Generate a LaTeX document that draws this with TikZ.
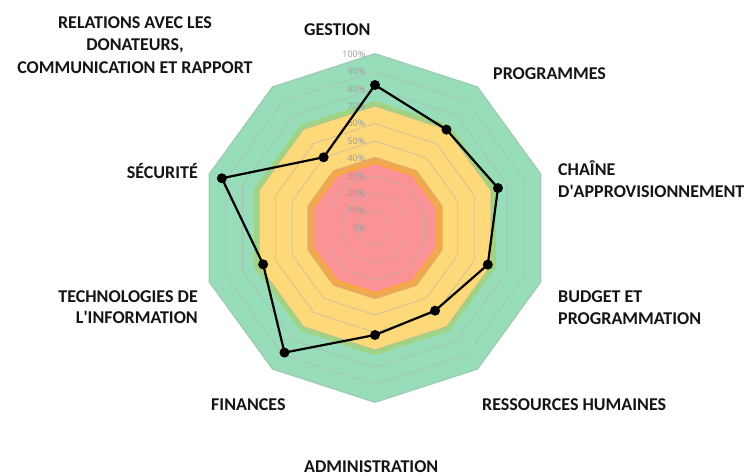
\documentclass[tikz,border=0pt]{standalone}
\usepackage{fontspec}
\setmainfont{Carlito}
\newfontfamily\tickfont{Open Sans}
\definecolor{mint}{RGB}{152,221,185}
\definecolor{yelc}{RGB}{254,217,122}
\definecolor{pinkc}{RGB}{250,146,150}
\definecolor{orangec}{RGB}{246,168,72}
\definecolor{greenline}{RGB}{160,212,130}
\begin{document}
\begin{tikzpicture}[x=1pt,y=1pt,
  lab/.style={font=\bfseries\fontsize{18}{21}\selectfont, inner sep=0pt, text=black!92},
  tick/.style={font=\tickfont\fontsize{9}{10}\selectfont, text=black!40, inner sep=0pt, anchor=east},
  dot/.style={circle, fill=black, inner sep=0pt, minimum size=10pt},
  ring/.style={draw=black!30, draw opacity=0.6, line width=0.8pt, line join=round},
  dataline/.style={draw=black, line width=2.2pt, line join=round}]
\useasboundingbox (-375,-248) rectangle (372,228);
% bands
\filldraw[fill=mint, draw=mint, line width=2pt, line join=round]
  (90:174) \foreach \i in {1,...,9} { -- (90-36*\i:174) } -- cycle;
\filldraw[fill=yelc, draw=greenline, line width=5pt, line join=round]
  (90:124.5) \foreach \i in {1,...,9} { -- (90-36*\i:124.5) } -- cycle;
\filldraw[fill=pinkc, draw=orangec, line width=7pt, line join=round]
  (90:67.5) \foreach \i in {1,...,9} { -- (90-36*\i:67.5) } -- cycle;
% grid
\foreach \k in {1,...,10} {
  \draw[ring] (90:17.4*\k) \foreach \i in {1,...,9} { -- (90-36*\i:17.4*\k) } -- cycle;
}
% tick labels
\foreach \k in {0,...,10} {
  \node[tick] (t\k) at (-9.5,17.4*\k) {\pgfmathparse{int(10*\k)}\pgfmathresult\%};
}
% data
\coordinate (c0) at (90:143);
\coordinate (c1) at (54:121.6);
\coordinate (c2) at (18:129.3);
\coordinate (c3) at (-18:118.6);
\coordinate (c4) at (-54:102.2);
\coordinate (c5) at (-90:107);
\coordinate (c6) at (-126:154);
\coordinate (c7) at (-162:117.6);
\coordinate (c8) at (162:161);
\coordinate (c9) at (126:87.4);
\draw[dataline] (c0) -- (c1) -- (c2) -- (c3) -- (c4) -- (c5) -- (c6) -- (c7) -- (c8) -- (c9) -- cycle;
\foreach \i in {0,...,9} { \node[dot] (p\i) at (c\i) {}; }
% axis labels
\node[lab, anchor=base west] (gestion) at (-71,192.4) {GESTION};
\node[lab, anchor=base west] (programmes) at (118,148.4) {PROGRAMMES};
\node[lab, anchor=base west] (chaine1) at (183,52.4) {CHAÎNE};
\node[lab, anchor=base west] (chaine2) at (183,30.4) {D\textquotesingle APPROVISIONNEMENT};
\node[lab, anchor=base west] (budget1) at (183,-74.3) {BUDGET ET};
\node[lab, anchor=base west] (budget2) at (183,-96.6) {PROGRAMMATION};
\node[lab, anchor=base west] (rh) at (107,-182.6) {RESSOURCES HUMAINES};
\node[lab, anchor=base west] (admin) at (-71,-244.6) {ADMINISTRATION};
\node[lab, anchor=base west] (finances) at (-164,-182.6) {FINANCES};
\node[lab, anchor=base east] (tech1) at (-177,-74.6) {TECHNOLOGIES DE};
\node[lab, anchor=base east] (tech2) at (-177,-95.6) {L\textquotesingle INFORMATION};
\node[lab, anchor=base east] (securite) at (-177,49.4) {SÉCURITÉ};
\node[lab, anchor=base] (rel1) at (-240,199.4) {RELATIONS AVEC LES};
\node[lab, anchor=base] (rel2) at (-240,177) {DONATEURS,};
\node[lab, anchor=base] (rel3) at (-240,154.4) {COMMUNICATION ET RAPPORT};
\end{tikzpicture}
\end{document}
